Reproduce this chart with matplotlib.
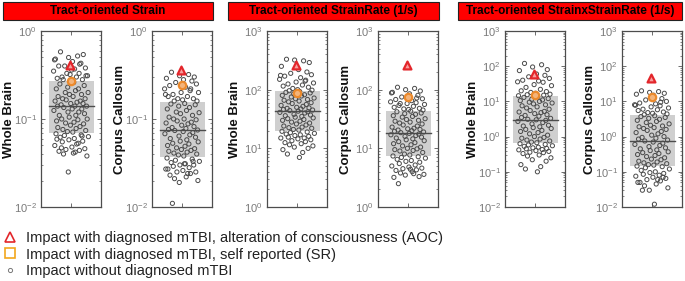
"""Tract-oriented strain / strain rate strip plots (log scale) for WB and CC."""

import matplotlib.pyplot as plt
import numpy as np
from matplotlib.lines import Line2D
from matplotlib.patches import Rectangle
from matplotlib.ticker import FuncFormatter, LogLocator, NullFormatter

plt.rcParams["font.family"] = ["Liberation Sans", "DejaVu Sans"]
plt.rcParams["mathtext.default"] = "regular"

# ---- data -------------------------------------------------------------
titles = [
    "Tract-oriented Strain",
    "Tract-oriented StrainRate (1/s)",
    "Tract-oriented StrainxStrainRate (1/s)",
]
regions = ["Whole Brain", "Corpus Callosum"]

# hand-read horizontal jitter of the points (fraction of half-width)
jitter = [
    -0.35, 0.22, -0.08, 0.41, -0.52, 0.05, 0.33, -0.21, 0.48, -0.41,
    0.12, -0.58, 0.27, -0.03, 0.55, -0.30, 0.18, -0.46, 0.38, -0.14,
    0.02, 0.50, -0.26, 0.29, -0.55, 0.09, -0.37, 0.44, -0.11, 0.25,
    -0.49, 0.15, -0.19, 0.57, -0.05, 0.35, -0.43, 0.07, -0.28, 0.47,
    -0.16, 0.31, -0.53, 0.20, -0.01, 0.40, -0.33, 0.13, -0.45, 0.52,
    -0.24, 0.04, 0.36, -0.57, 0.26, -0.10, 0.45, -0.39, 0.16, -0.06,
    0.54, -0.31, 0.23, -0.48, 0.10, -0.18, 0.42, -0.02, 0.30, -0.44,
    0.17, -0.27, 0.49, -0.12, 0.06, -0.50, 0.34, -0.22, 0.58, -0.36,
    0.11, -0.07, 0.39, -0.29, 0.24, -0.54, 0.03, 0.46, -0.17, 0.28,
    -0.40, 0.14, -0.25, 0.53, -0.09, 0.37, -0.47, 0.19, -0.32, 0.08,
]

strain_wb = [
    0.58, 0.52, 0.50, 0.54, 0.48, 0.45, 0.43, 0.40, 0.38, 0.40, 0.37, 0.35,
    0.33, 0.32, 0.31, 0.30, 0.30, 0.29, 0.28, 0.33, 0.36, 0.31, 0.28, 0.42,
    0.47,
    0.26, 0.25, 0.24, 0.23, 0.22, 0.22, 0.21, 0.20, 0.20, 0.19, 0.19, 0.18,
    0.18, 0.17, 0.17, 0.165, 0.16, 0.16, 0.155, 0.15, 0.15, 0.145, 0.14, 0.14,
    0.14, 0.135, 0.13, 0.13, 0.125, 0.12, 0.12, 0.115, 0.11, 0.11, 0.105,
    0.10, 0.10, 0.098, 0.095, 0.092, 0.09, 0.088, 0.085, 0.082, 0.08, 0.078,
    0.076, 0.074, 0.072, 0.071,
    0.068, 0.066, 0.065, 0.063, 0.062, 0.060, 0.058, 0.056, 0.055, 0.053,
    0.05, 0.048, 0.046, 0.045, 0.044, 0.043, 0.042, 0.04, 0.038, 0.025,
    0.064, 0.059, 0.052, 0.047, 0.041,
]
strain_cc = [
    0.34, 0.32, 0.31, 0.30, 0.29, 0.28, 0.27, 0.26, 0.25, 0.24, 0.23, 0.22,
    0.21, 0.20, 0.20, 0.19, 0.18, 0.18, 0.17, 0.17, 0.165, 0.16, 0.16, 0.22,
    0.19,
    0.15, 0.148, 0.145, 0.14, 0.135, 0.13, 0.125, 0.12, 0.118, 0.115, 0.11,
    0.105, 0.10, 0.10, 0.098, 0.095, 0.092, 0.09, 0.088, 0.085, 0.082, 0.08,
    0.078, 0.076, 0.075, 0.074, 0.072, 0.07, 0.068, 0.066, 0.064, 0.062, 0.06,
    0.058, 0.056, 0.055, 0.053, 0.052, 0.05, 0.049, 0.047, 0.046, 0.045,
    0.044, 0.043, 0.042, 0.041, 0.04, 0.039, 0.038,
    0.036, 0.035, 0.034, 0.033, 0.032, 0.031, 0.03, 0.03, 0.029, 0.028,
    0.027, 0.026, 0.025, 0.025, 0.024, 0.023, 0.022, 0.021, 0.02, 0.019,
    0.033, 0.027, 0.024, 0.011, 0.031,
]
rate_wb = [
    330, 310, 320, 290, 250, 220, 200, 190, 180, 170, 160, 150, 140, 135,
    130, 125, 120, 115, 110, 105, 100, 98, 96, 145, 175,
    93, 90, 88, 85, 82, 80, 78, 75, 72, 70, 68, 66, 64, 62, 60, 58, 56, 54,
    52, 50, 49, 48, 47, 46, 45, 44, 43, 42, 41, 40, 38, 37, 36, 35, 34, 33,
    32, 31, 30, 29, 28, 27, 26, 25, 24, 23, 22.5, 22, 21, 20.5,
    19.5, 19, 18.5, 18, 17.5, 17, 16.5, 16, 15.5, 15, 15, 14.5, 14, 13.5, 13,
    12.5, 12, 11.5, 11, 10.5, 10, 9.5, 8.5, 8, 7,
]
rate_cc = [
    110, 105, 100, 95, 90, 85, 80, 75, 70, 68, 65, 62, 60, 58, 56, 54, 52,
    50, 48, 47, 46, 45, 58, 72, 88,
    43, 42, 40, 39, 38, 36, 35, 34, 32, 31, 30, 29, 28, 27, 26, 25, 24, 23,
    22, 21.5, 21, 20.5, 20, 19.5, 19, 18.5, 18, 17.5, 17, 16.5, 16, 15.5, 15,
    14.5, 14, 13.5, 13, 12.5, 12, 11.5, 11, 10.5, 10, 9.8, 9.5, 9.2, 9, 8.5,
    8, 7.7,
    7.4, 7.2, 7, 6.8, 6.5, 6.2, 6, 5.8, 5.5, 5.2, 5, 4.8, 4.6, 4.5, 4.3, 4.2,
    4, 3.8, 3.6, 3.5, 3.3, 3.2, 3.7, 2.5, 4.4,
]
sxsr_wb = [
    120, 110, 95, 80, 75, 60, 55, 50, 45, 40, 38, 36, 35, 30, 28, 25, 22, 20,
    19, 18, 17, 16, 15.5, 15, 14.5,
    13.5, 13, 12, 11.5, 11, 10.5, 10, 9.5, 9, 8.5, 8, 7.5, 7, 6.5, 6, 5.5,
    5.2, 5, 4.8, 4.5, 4.2, 4, 3.8, 3.5, 3.3, 3.1, 3, 2.9, 2.7, 2.5, 2.3, 2.1,
    2, 1.9, 1.8, 1.7, 1.6, 1.5, 1.4, 1.3, 1.2, 1.1, 1.0, 0.95, 0.9, 0.85, 0.8,
    0.75, 0.7, 0.67,
    0.63, 0.6, 0.58, 0.55, 0.53, 0.5, 0.48, 0.46, 0.45, 0.43, 0.42, 0.4, 0.38,
    0.36, 0.35, 0.33, 0.3, 0.28, 0.25, 0.22, 0.2, 0.16, 0.14, 0.12, 0.1,
]
sxsr_cc = [
    20, 19, 18, 17, 16, 15, 12, 11, 10, 9, 8.5, 8, 7.5, 7, 6.5, 6, 5.8, 5.5,
    5, 4.8, 4.6, 4.4, 4.2, 9.5, 7.8,
    3.9, 3.7, 3.5, 3.3, 3.1, 2.9, 2.7, 2.5, 2.3, 2.1, 2, 1.9, 1.8, 1.7, 1.6,
    1.5, 1.4, 1.3, 1.2, 1.1, 1.0, 0.95, 0.9, 0.85, 0.8, 0.75, 0.7, 0.65, 0.6,
    0.56, 0.52, 0.48, 0.45, 0.42, 0.4, 0.37, 0.35, 0.33, 0.31, 0.29, 0.27,
    0.25, 0.23, 0.22, 0.2, 0.19, 0.18, 0.17, 0.16, 0.155,
    0.145, 0.14, 0.13, 0.12, 0.11, 0.1, 0.095, 0.09, 0.085, 0.08, 0.075, 0.07,
    0.065, 0.06, 0.055, 0.05, 0.045, 0.04, 0.035, 0.03, 0.07, 0.05, 0.06,
    0.03, 0.012,
]
panel_values = [strain_wb, strain_cc, rate_wb, rate_cc, sxsr_wb, sxsr_cc]

# box: 25th percentile, median, 75th percentile
box_q1 = [0.07, 0.037, 20, 7.5, 0.65, 0.15]
box_med = [0.14, 0.075, 44, 18, 3.0, 0.75]
box_q3 = [0.27, 0.155, 95, 44, 14, 4.0]

# diagnosed cases
aoc_values = [0.41, 0.36, 260, 260, 60, 45]
sr_values = [0.27, 0.245, 88, 75, 15, 13]

ylims = [(1e-2, 1e0), (1e-2, 1e0), (1e0, 1e3), (1e0, 1e3),
         (1e-2, 1e3), (1e-2, 1e3)]

legend_labels = [
    "Impact with diagnosed mTBI, alteration of consciousness (AOC)",
    "Impact with diagnosed mTBI, self reported (SR)",
    "Impact without diagnosed mTBI",
]

# ---- layout (pixels of a 685x281 figure) ------------------------------
W, H = 685, 281
axes_left = [41, 152, 267, 378, 505, 622]
axes_width = 60
axes_top, axes_bottom = 31, 207
title_boxes = [(3, 213), (228, 439), (458, 682)]
title_top, title_bottom = 2, 20

RED = "#e3262b"
ORANGE = "#ec8a2c"
GRAY_PT = "#4a4a4a"
TICK_GRAY = "#7a7a7a"


def log_label(v, pos):
    return "$10^{%d}$" % int(round(np.log10(v)))


def main():
    fig = plt.figure(figsize=(W / 100, H / 100), dpi=100)

    for i, vals in enumerate(panel_values):
        ax = fig.add_axes([
            axes_left[i] / W,
            1 - axes_bottom / H,
            axes_width / W,
            (axes_bottom - axes_top) / H,
        ])
        ax.set_yscale("log")
        ax.set_ylim(*ylims[i])
        ax.set_xlim(-1, 1)

        ax.add_patch(Rectangle((-0.75, box_q1[i]), 1.5,
                               box_q3[i] - box_q1[i],
                               facecolor="#cfcfcf", edgecolor="none",
                               zorder=1))
        ax.plot([-0.75, 0.75], [box_med[i], box_med[i]], color="#4d4d4d",
                lw=1.0, zorder=2)

        ax.scatter(jitter[:len(vals)], vals, s=9, facecolors="none",
                   edgecolors=GRAY_PT, linewidths=0.7, zorder=3)
        ax.scatter([0.0], [sr_values[i]], s=28, marker="o",
                   facecolors="#f4b47a", edgecolors=ORANGE, linewidths=1.6,
                   zorder=4)
        ax.scatter([-0.02], [aoc_values[i]], s=32, marker="^",
                   facecolors="#f7a0a0", edgecolors=RED, linewidths=1.6,
                   zorder=5)

        ax.yaxis.set_major_locator(LogLocator(base=10, numticks=12))
        ax.yaxis.set_minor_locator(
            LogLocator(base=10, subs=np.arange(2, 10), numticks=12))
        ax.yaxis.set_major_formatter(FuncFormatter(log_label))
        ax.yaxis.set_minor_formatter(NullFormatter())
        ax.set_xticks([0])
        ax.set_xticklabels([])
        ax.tick_params(which="both", direction="in", left=True, right=True,
                       top=True, bottom=True, color="#555555",
                       labelsize=8, labelcolor=TICK_GRAY, pad=3)
        ax.tick_params(which="major", length=3, width=0.6)
        ax.tick_params(which="minor", length=1.5, width=0.5)
        for sp in ax.spines.values():
            sp.set_color("#4d4d4d")
            sp.set_linewidth(0.9)

        ax.text(-0.53, 0.5, regions[i % 2], transform=ax.transAxes,
                rotation=90, ha="center", va="center", fontsize=9.5,
                fontweight="bold", color="#111111")

    for t, (x0, x1) in zip(titles, title_boxes):
        fig.patches.append(Rectangle(
            (x0 / W, 1 - title_bottom / H), (x1 - x0) / W,
            (title_bottom - title_top) / H, transform=fig.transFigure,
            facecolor="#ff0000", edgecolor="#222222", linewidth=0.8))
        fig.text((x0 + x1) / 2 / W, 1 - (title_top + title_bottom) / 2 / H,
                 t, ha="center", va="center", fontsize=8.5, fontweight="bold",
                 color="black")

    handles = [
        Line2D([], [], ls="none", marker="^", ms=6.5, mfc="none",
               mec=RED, mew=1.2),
        Line2D([], [], ls="none", marker="s", ms=6.5, mfc="none",
               mec="#f2a71c", mew=1.2),
        Line2D([], [], ls="none", marker="o", ms=3, mfc="none",
               mec="#777777", mew=0.7),
    ]
    fig.legend(handles, legend_labels, loc="upper left",
               bbox_to_anchor=(0.0, 1 - 228 / H), frameon=False,
               fontsize=10.5, labelspacing=0.18, handlelength=1.0,
               handletextpad=0.6, borderaxespad=0, borderpad=0.2,
               labelcolor="#222222")

    fig.savefig("out.png", dpi=100)


if __name__ == "__main__":
    main()
